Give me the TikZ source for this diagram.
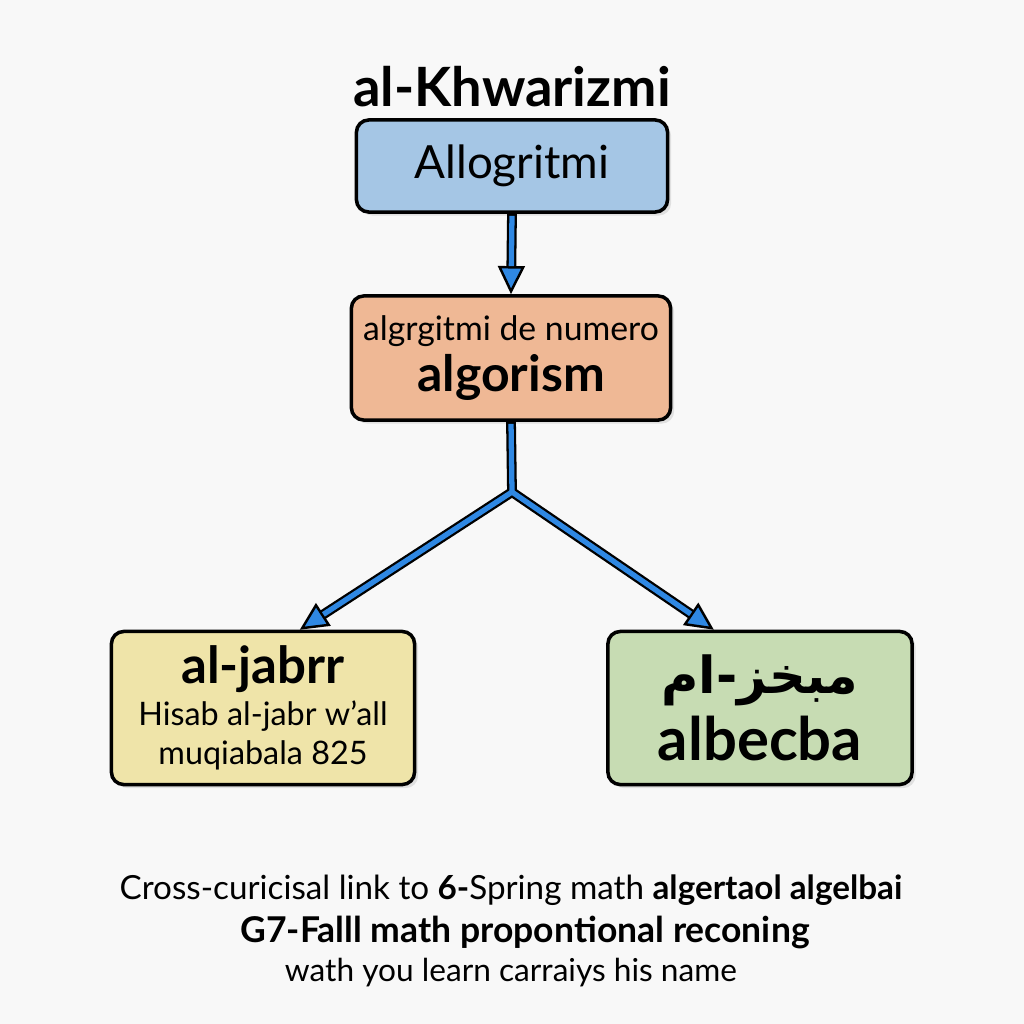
\documentclass[tikz,border=0pt]{standalone}
\usepackage{fontspec}
\setmainfont{Lato}
\newfontfamily\arabicfont[Script=Arabic]{DejaVu Sans}
\TeXXeTstate=1
\usepackage{tikz}
\usetikzlibrary{arrows.meta,positioning,calc,shadows}

\definecolor{pagebg}{HTML}{F8F8F8}
\definecolor{boxblue}{HTML}{A5C6E5}
\definecolor{boxorange}{HTML}{EFB895}
\definecolor{boxyellow}{HTML}{EFE4A9}
\definecolor{boxgreen}{HTML}{C7DCB3}
\definecolor{linkblue}{HTML}{2F88E3}

\begin{document}
\begin{tikzpicture}[
  x=0.01cm, y=-0.01cm,
  box/.style={draw=black,line width=1pt,rounded corners=3.5pt,align=center,
    drop shadow={shadow xshift=1pt,shadow yshift=-1pt,opacity=0.2}},
  wire/.style={draw=black,line width=2.8pt,line join=miter},
  wirecore/.style={draw=linkblue,line width=1.5pt,line join=miter},
  wirehead/.style={-{Triangle[length=8pt,width=7.6pt,fill=linkblue,line width=0.7pt]}},
  note/.style={align=center,inner sep=0pt}
]
  \fill[pagebg] (0,0) rectangle (1024,1024);
  \useasboundingbox (0,0) rectangle (1024,1024);

  % title and the chain of names
  \node[note,font=\fontsize{15.4}{18}\selectfont\bfseries] (title) at (512,87) {al-Khwarizmi};
  \node[box,fill=boxblue,minimum width=3.11cm,minimum height=0.92cm,
        font=\fontsize{13}{15}\selectfont] (allo) at (512,166) {Allogritmi};
  \node[box,fill=boxorange,minimum width=3.19cm,minimum height=1.24cm] (algo) at (511,358)
    {{\fontsize{9.6}{12}\selectfont algrgitmi de numero}\\[1pt]
     {\fontsize{14.2}{15}\selectfont\bfseries algorism}};
  \node[box,fill=boxyellow,minimum width=3.03cm,minimum height=1.53cm] (jabr) at (263,708)
    {{\fontsize{14.5}{16}\selectfont\bfseries al-jabrr}\\[0pt]
     {\fontsize{9.2}{11}\selectfont Hisab al-jabr w'all}\\[-1pt]
     {\fontsize{9.2}{11}\selectfont muqiabala 825}};
  \node[box,fill=boxgreen,minimum width=3.04cm,minimum height=1.53cm] (albe) at (760,708)
    {{\fontsize{14.5}{16}\arabicfont\bfseries\beginR مبخز-ام\endR}\\[2pt]
     {\fontsize{17}{18}\selectfont\bfseries albecba}};

  % links
  \coordinate (split) at (512,492);
  \coordinate (jabrin) at ($(jabr.north west)!0.62!(jabr.north east)$);
  \coordinate (albein) at ($(albe.north west)!0.35!(albe.north east)$);
  \draw[wire,wirehead] (allo.south) -- (algo.north);
  \draw[wire] (algo.south) -- (split);
  \draw[wire,wirehead] (split) -- (jabrin);
  \draw[wire,wirehead] (split) -- (albein);
  \draw[wirecore,shorten <=0.6pt,shorten >=8pt] (allo.south) -- (algo.north);
  \draw[wirecore,shorten <=0.6pt] (algo.south) -- (split);
  \draw[wirecore,shorten >=8pt] (split) -- (jabrin);
  \draw[wirecore,shorten >=8pt] (split) -- (albein);

  % footer
  \node[note,font=\fontsize{9.45}{11}\selectfont] (foot1) at (511,890)
    {Cross-curicisal link to \textbf{6-}Spring math \textbf{algertaol algelbai}};
  \node[note,font=\fontsize{10.1}{11}\selectfont\bfseries] (foot2) at (525,932)
    {G7-Falll math propontional reconing};
  \node[note,font=\fontsize{9}{11}\selectfont] (foot3) at (511,973)
    {wath you learn carraiys his name};
\end{tikzpicture}
\end{document}
